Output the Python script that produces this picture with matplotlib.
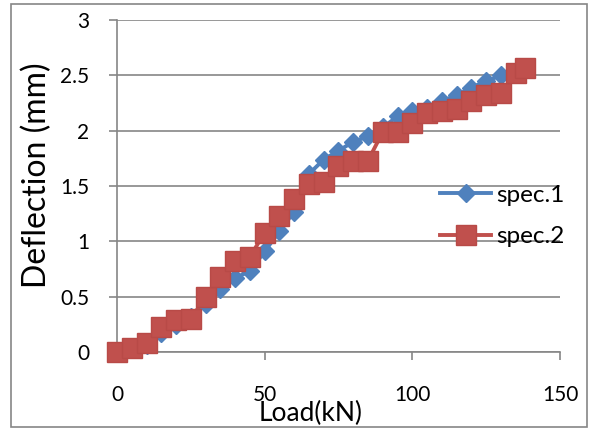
import matplotlib
matplotlib.use('Agg')
import matplotlib.pyplot as plt
from matplotlib.patches import Rectangle

plt.rcParams['font.family'] = 'Lato'

# load (kN) and deflection (mm)
load1 = [0, 5, 10, 15, 20, 25, 30, 35, 40, 45, 50, 55, 60, 65, 70, 75, 80, 85,
         90, 95, 100, 105, 110, 115, 120, 125, 130]
defl1 = [0, 0.03, 0.06, 0.17, 0.24, 0.32, 0.43, 0.57, 0.67, 0.73, 0.91, 1.09, 1.27,
         1.61, 1.74, 1.82, 1.90, 1.95, 2.03, 2.13, 2.18, 2.21, 2.27, 2.32, 2.39, 2.45, 2.50]

load2 = [0, 5, 10, 15, 20, 25, 30, 35, 40, 45, 50, 55, 60, 65, 70, 75, 80, 85,
         90, 95, 100, 105, 110, 115, 120, 125, 130, 135, 138]
defl2 = [0, 0.04, 0.08, 0.23, 0.29, 0.30, 0.50, 0.68, 0.82, 0.86, 1.08, 1.23, 1.38,
         1.52, 1.54, 1.68, 1.73, 1.73, 1.99, 1.99, 2.07, 2.16, 2.18, 2.20, 2.27, 2.32,
         2.34, 2.52, 2.57]

labels = ['spec.1', 'spec.2']
xticks = [0, 50, 100, 150]
yticks = [0, 0.5, 1, 1.5, 2, 2.5, 3]

grey = '#868686'

fig = plt.figure(figsize=(5.91, 4.29), dpi=100)
ax = fig.add_axes([0.198, 0.1795, 0.7495, 0.7735])

ax.plot(load1, defl1, color='#4F81BD', lw=2.8, marker='D', ms=9.5,
        label=labels[0], clip_on=False, zorder=3)
ax.plot(load2, defl2, color='#C0504D', lw=2.8, marker='s', ms=14,
        mec='#B84A47', label=labels[1], clip_on=False, zorder=4)

ax.set_xlim(0, 150)
ax.set_ylim(0, 3)
ax.set_xticks(xticks)
ax.set_yticks(yticks)
ax.set_yticklabels(['0', '0.5', '1', '1.5', '2', '2.5', '3'])

ax.grid(axis='y', color=grey, lw=1.2)
ax.set_axisbelow(True)
for s in ['top', 'right']:
    ax.spines[s].set_visible(False)
for s in ['left', 'bottom']:
    ax.spines[s].set_color(grey)
    ax.spines[s].set_linewidth(1.2)

ax.tick_params(axis='y', direction='out', length=6, color=grey, width=1.2,
               labelsize=15, pad=14)
ax.tick_params(axis='x', direction='out', length=6, color=grey, width=1.2,
               labelsize=15, pad=18)

fig.text(0.525, 0.036, 'Load(kN)', fontsize=19, ha='center', va='center')
fig.text(0.063, 0.592, 'Deflection (mm)', fontsize=23, rotation=90,
         ha='center', va='center')

ax.legend(loc='center left', bbox_to_anchor=(0.745, 0.4965),
          bbox_transform=fig.transFigure, frameon=False, fontsize=17.5,
          handlelength=2.1, handletextpad=0.2, labelspacing=0.85,
          borderpad=0, borderaxespad=0)

# chart area border
fig.patches.append(Rectangle((0.019, 0.004), 0.975, 0.986, transform=fig.transFigure,
                             fill=False, edgecolor=grey, lw=1.2))

plt.savefig('out.png', dpi=100)
